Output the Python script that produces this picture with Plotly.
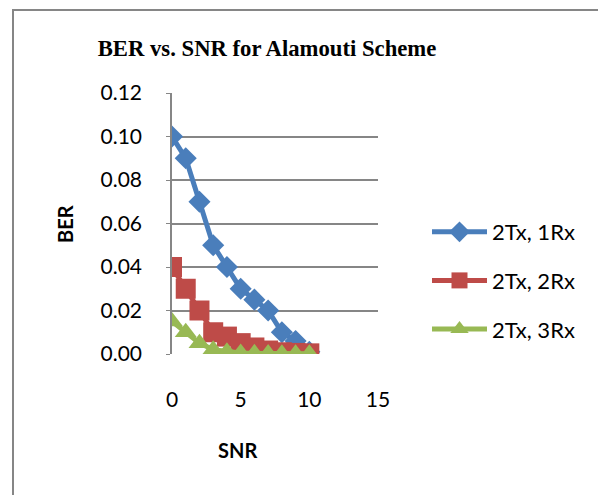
import plotly.graph_objects as go

snr = [0, 1, 2, 3, 4, 5, 6, 7, 8, 9, 10]
ber_1rx = [0.10, 0.09, 0.07, 0.05, 0.04, 0.03, 0.025, 0.02, 0.01, 0.006, 0.001]
ber_2rx = [0.04, 0.03, 0.02, 0.01, 0.008, 0.005, 0.003, 0.0016, 0.0008, 0.0005, 0.0003]
ber_3rx = [0.015, 0.01, 0.005, 0.002, 0.001, 0.0005, 0.0003, 0.0002, 0.0001, 0.0001, 0.0001]
x_ticks = [0, 5, 10, 15]
y_ticks = [0.00, 0.02, 0.04, 0.06, 0.08, 0.10, 0.12]

# page body has an 8px margin, so the figure sits at (8, 8) in the window
OFF = 8
W, H = 606 - OFF, 495 - OFF
# plot area in window pixels
X0, X1, Y0, Y1 = 172, 378, 93, 354
L, R, T, B = X0 - OFF, W - (X1 - OFF), Y0 - OFF, H - (Y1 - OFF)
pw, ph = X1 - X0, Y1 - Y0

def px(x):
    return (x - X0) / pw

def py(y):
    return (Y1 - y) / ph

sans = "Lato, Calibri, Carlito, sans-serif"

fig = go.Figure()
fig.add_trace(go.Scatter(x=snr, y=ber_1rx, name="2Tx, 1Rx", mode="lines+markers",
                         line=dict(color="#4A7EBB", width=5),
                         marker=dict(symbol="diamond", size=17, color="#4A7EBB"),
                         legendgroup="a"))
fig.add_trace(go.Scatter(x=snr, y=ber_2rx, name="2Tx, 2Rx", mode="lines+markers",
                         line=dict(color="#BE4B48", width=5),
                         marker=dict(symbol="square", size=20, color="#BE4B48"),
                         legendgroup="b"))
fig.add_trace(go.Scatter(x=snr, y=ber_3rx, name="2Tx, 3Rx", mode="lines+markers",
                         line=dict(color="#98B954", width=5),
                         marker=dict(symbol="triangle-up", size=19, color="#98B954"),
                         legendgroup="c"))

# outer chart frame
fig.add_shape(type="rect", xref="paper", yref="paper",
              x0=px(13), x1=px(640), y0=py(10), y1=py(540),
              line=dict(color="#868686", width=2), layer="below")

fig.add_annotation(text="BER", xref="paper", yref="paper", x=px(65), y=py(224),
                   textangle=-90, showarrow=False, xanchor="center", yanchor="middle",
                   font=dict(family=sans, size=20, color="black", weight="bold"))
fig.add_annotation(text="SNR", xref="paper", yref="paper", x=px(237), y=py(450),
                   showarrow=False, xanchor="center", yanchor="middle",
                   font=dict(family=sans, size=20, color="black", weight="bold"))

fig.update_layout(
    width=W, height=H,
    margin=dict(l=L, r=R, t=T, b=B, autoexpand=False),
    paper_bgcolor="white", plot_bgcolor="white",
    title=dict(text="<b>BER vs. SNR for Alamouti Scheme</b>",
               x=(267 - OFF) / W, y=1 - (48 - OFF) / H,
               xanchor="center", yanchor="middle",
               font=dict(family="Liberation Serif, Times New Roman, serif", size=22.7, color="black")),
    font=dict(family=sans, size=21, color="black"),
    legend=dict(x=px(427), y=py(211), xanchor="left", yanchor="top",
                traceorder="grouped", tracegroupgap=17, itemwidth=55,
                font=dict(family=sans, size=22, color="black")),
    showlegend=True,
)
fig.update_xaxes(range=[0, 15], tickvals=x_ticks, ticktext=[str(v) for v in x_ticks],
                 showgrid=False, zeroline=False, showline=False,
                 ticks="", ticklabelstandoff=31)
fig.update_yaxes(range=[0, 0.12], tickvals=y_ticks, ticktext=[f"{v:.2f}" for v in y_ticks],
                 showgrid=True, gridcolor="#868686", gridwidth=1.5,
                 zeroline=False, showline=True, linecolor="#868686", linewidth=1.5,
                 ticks="outside", ticklen=4, tickcolor="#868686",
                 ticklabelstandoff=20)

fig.write_html("out.html")
